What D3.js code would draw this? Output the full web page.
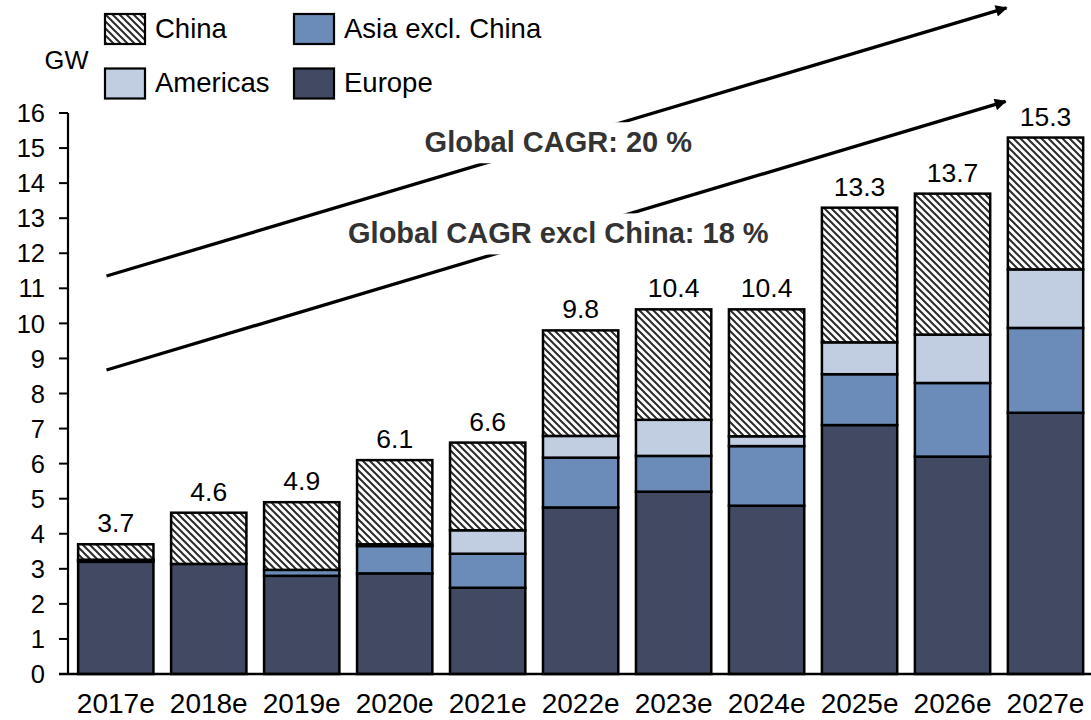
<!DOCTYPE html>
<html>
<head>
<meta charset="utf-8">
<script src="https://cdn.jsdelivr.net/npm/d3@7"></script>
<style>
  html, body { margin: 0; padding: 0; background: #fff; }
  svg { display: block; font-family: "Liberation Sans", Arial, sans-serif; }
</style>
</head>
<body>
<svg id="chart" width="1091" height="720"></svg>
<script>
// ---- Data (GW) ----
const categories = ["2017e","2018e","2019e","2020e","2021e","2022e","2023e","2024e","2025e","2026e","2027e"];
const europe     = [3.2, 3.14, 2.8, 2.87, 2.46, 4.75, 5.2, 4.8, 7.1, 6.2, 7.45];
const asiaExChina= [0.04, 0, 0.17, 0.78, 0.97, 1.42, 1.02, 1.7, 1.45, 2.1, 2.42];
const americas   = [0.02, 0, 0, 0.05, 0.67, 0.62, 1.03, 0.28, 0.91, 1.38, 1.67];
const china      = [0.44, 1.46, 1.93, 2.40, 2.5, 3.01, 3.15, 3.62, 3.84, 4.02, 3.76];
const totals     = [3.7, 4.6, 4.9, 6.1, 6.6, 9.8, 10.4, 10.4, 13.3, 13.7, 15.3];
const yTickValues = [0,1,2,3,4,5,6,7,8,9,10,11,12,13,14,15,16];
const seriesNames = ["Europe", "Asia excl. China", "Americas", "China"];
const unitLabel = "GW";
const cagrLabels = ["Global CAGR: 20 %", "Global CAGR excl China: 18 %"];
// CAGR trend arrows in data space: [category index, GW]
const cagrFrom  = [[-0.1, 11.35], [-0.1, 8.67]];
const cagrTo    = [[9.58, 19.0], [9.57, 16.33]];
const cagrText  = [[4.76, 14.88], [4.76, 12.28]];

// ---- Styles ----
const colors = { "Europe": "#414963", "Asia excl. China": "#6b8cb9", "Americas": "#c1cde0", "China": "url(#hatch)" };

const svg = d3.select("#chart");
const defs = svg.append("defs");
const pat = defs.append("pattern").attr("id","hatch").attr("width",7).attr("height",7)
  .attr("patternUnits","userSpaceOnUse");
pat.append("rect").attr("width",7).attr("height",7).attr("fill","#fff");
pat.append("path").attr("d","M-2,-2 L9,9 M-2,5 L2,9 M5,-2 L9,2")
  .attr("stroke","#2a2a2a").attr("stroke-width",2);
defs.append("marker").attr("id","arrowhead").attr("viewBox","0 0 10 10")
  .attr("refX",9).attr("refY",5).attr("markerWidth",4.6).attr("markerHeight",3.6)
  .attr("markerUnits","strokeWidth").attr("orient","auto")
  .append("path").attr("d","M0,0 L10,5 L0,10 z").attr("fill","#000");

const x = d3.scaleBand().domain(categories).range([69.3, 1092]).paddingInner(0.19).paddingOuter(0.095);
const y = d3.scaleLinear().domain([0, 16]).range([674, 113]);
const xi = d3.scaleLinear().domain([0, categories.length - 1])
  .range([x(categories[0]) + x.bandwidth()/2, x(categories[categories.length-1]) + x.bandwidth()/2]);

// Stack
const rows = categories.map((c, i) => ({
  cat: c, "Europe": europe[i], "Asia excl. China": asiaExChina[i], "Americas": americas[i], "China": china[i]
}));
const stacked = d3.stack().keys(seriesNames)(rows);

// Trend arrows (behind)
const arrowG = svg.append("g");
cagrLabels.forEach((lab, k) => {
  arrowG.append("line")
    .attr("x1", xi(cagrFrom[k][0])).attr("y1", y(cagrFrom[k][1]))
    .attr("x2", xi(cagrTo[k][0])).attr("y2", y(cagrTo[k][1]))
    .attr("stroke","#000").attr("stroke-width",3.3).attr("marker-end","url(#arrowhead)");
});
cagrLabels.forEach((lab, k) => {
  const tx = xi(cagrText[k][0]), ty = y(cagrText[k][1]);
  const t = arrowG.append("text").attr("x", tx).attr("y", ty).attr("text-anchor","middle")
    .attr("font-size", 29).attr("font-weight","bold").attr("fill","#333").text(lab);
  const bb = t.node().getBBox();
  arrowG.insert("rect", "text").attr("x", bb.x - 6).attr("y", ty - 30)
    .attr("width", bb.width + 12).attr("height", 41).attr("fill","#fff");
});

// Bars
const barsG = svg.append("g");
stacked.forEach(layer => {
  barsG.append("g").selectAll("rect")
    .data(layer.filter(d => d[1] - d[0] > 0))
    .join("rect")
    .attr("x", d => x(d.data.cat))
    .attr("width", x.bandwidth())
    .attr("y", d => y(d[1]))
    .attr("height", d => y(d[0]) - y(d[1]))
    .attr("fill", colors[layer.key])
    .attr("stroke", "#000").attr("stroke-width", 2.5);
});

// Total labels
svg.append("g").selectAll("text").data(categories).join("text")
  .attr("x", c => x(c) + x.bandwidth()/2)
  .attr("y", (c, i) => y(totals[i]) - 12)
  .attr("text-anchor","middle").attr("font-size",26.5).attr("fill","#000")
  .text((c, i) => d3.format(".1f")(totals[i]));

// Y axis
const yAxis = svg.append("g");
yAxis.append("line").attr("x1",68).attr("x2",68).attr("y1",y(0)).attr("y2",y(16))
  .attr("stroke","#000").attr("stroke-width",2.2);
yAxis.selectAll("line.tick").data(yTickValues).join("line").attr("class","tick")
  .attr("x1",59).attr("x2",68).attr("y1",d=>y(d)).attr("y2",d=>y(d))
  .attr("stroke","#000").attr("stroke-width",2);
yAxis.selectAll("text").data(yTickValues).join("text")
  .attr("x",45).attr("y",d=>y(d)).attr("dy","0.36em").attr("text-anchor","end")
  .attr("font-size",25.5).attr("fill","#000").text(d=>d);

// X baseline + labels
svg.append("line").attr("x1",59).attr("x2",1091).attr("y1",y(0)).attr("y2",y(0))
  .attr("stroke","#000").attr("stroke-width",2.4);
svg.append("g").selectAll("text").data(categories).join("text")
  .attr("x", c => x(c) + x.bandwidth()/2).attr("y", 713)
  .attr("text-anchor","middle").attr("font-size",28).attr("fill","#000").text(c=>c);

// Unit label
svg.append("text").attr("x",44.6).attr("y",68.5).attr("font-size",25.5).attr("fill","#000").text(unitLabel);

// Legend
const legendItems = [
  {name:"China", col:0, row:0},
  {name:"Asia excl. China", col:1, row:0},
  {name:"Americas", col:0, row:1},
  {name:"Europe", col:1, row:1}
];
const lg = svg.append("g");
legendItems.forEach(it => {
  const lx = it.col === 0 ? 105 : 294;
  const ly = it.row === 0 ? 14 : 68.5;
  lg.append("rect").attr("x",lx).attr("y",ly).attr("width",40).attr("height",30)
    .attr("fill", colors[it.name]).attr("stroke","#000").attr("stroke-width",2.2);
  lg.append("text").attr("x", lx + 50).attr("y", ly + 23.5).attr("font-size",27.5)
    .attr("fill","#000").text(it.name);
});
</script>
</body>
</html>
